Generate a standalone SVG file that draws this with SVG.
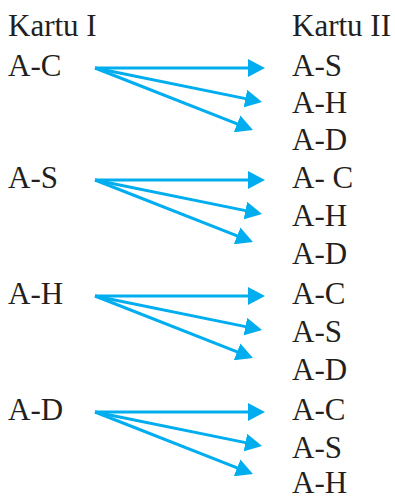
<svg xmlns="http://www.w3.org/2000/svg" width="395" height="497" viewBox="0 0 395 497">
<style>
.t text{font-family:'Liberation Serif','Times New Roman','DejaVu Serif',serif;font-size:31px;fill:#231f20}
.c line{stroke:#00aeef;stroke-width:3;marker-end:url(#ah)}
</style>
<defs>
<marker id="ah" viewBox="0 0 17 18" refX="9" refY="9" markerWidth="17" markerHeight="18" markerUnits="userSpaceOnUse" orient="auto">
<path d="M0,0 L17,9 L0,18 Z" fill="#00aeef"/>
</marker>
</defs>
<rect width="395" height="497" fill="#fff"/>
<g class="t" font-family="Liberation Serif, serif">
<g id="hdr1"><text x="8" y="36">Kartu I</text></g>
<g id="hdr2"><text x="292" y="36">Kartu II</text></g>
<g id="L1"><text x="8" y="76">A-C</text></g>
<g id="L2"><text x="8" y="188">A-S</text></g>
<g id="L3"><text x="8" y="304">A-H</text></g>
<g id="L4"><text x="8" y="420">A-D</text></g>
<g id="R1"><text x="292" y="76">A-S</text><text x="292" y="113">A-H</text><text x="292" y="150">A-D</text></g>
<g id="R2"><text x="292" y="188">A- C</text><text x="292" y="226">A-H</text><text x="292" y="264">A-D</text></g>
<g id="R3"><text x="292" y="304">A-C</text><text x="292" y="342">A-S</text><text x="292" y="380">A-D</text></g>
<g id="R4"><text x="292" y="420">A-C</text><text x="292" y="458">A-S</text><text x="292" y="493">A-H</text></g>
</g>
<g class="c" id="connectors">
<line x1="95" y1="68" x2="257" y2="68"/>
<line x1="95" y1="68" x2="254.2" y2="100.4"/>
<line x1="95" y1="68" x2="245.5" y2="127.1"/>
<line x1="95" y1="180" x2="257" y2="180"/>
<line x1="95" y1="180" x2="254.2" y2="212.4"/>
<line x1="95" y1="180" x2="245.5" y2="239.1"/>
<line x1="95" y1="296" x2="257" y2="296"/>
<line x1="95" y1="296" x2="254.2" y2="328.4"/>
<line x1="95" y1="296" x2="245.5" y2="355.1"/>
<line x1="95" y1="412" x2="257" y2="412"/>
<line x1="95" y1="412" x2="254.2" y2="444.4"/>
<line x1="95" y1="412" x2="245.5" y2="471.1"/>
</g>
</svg>
